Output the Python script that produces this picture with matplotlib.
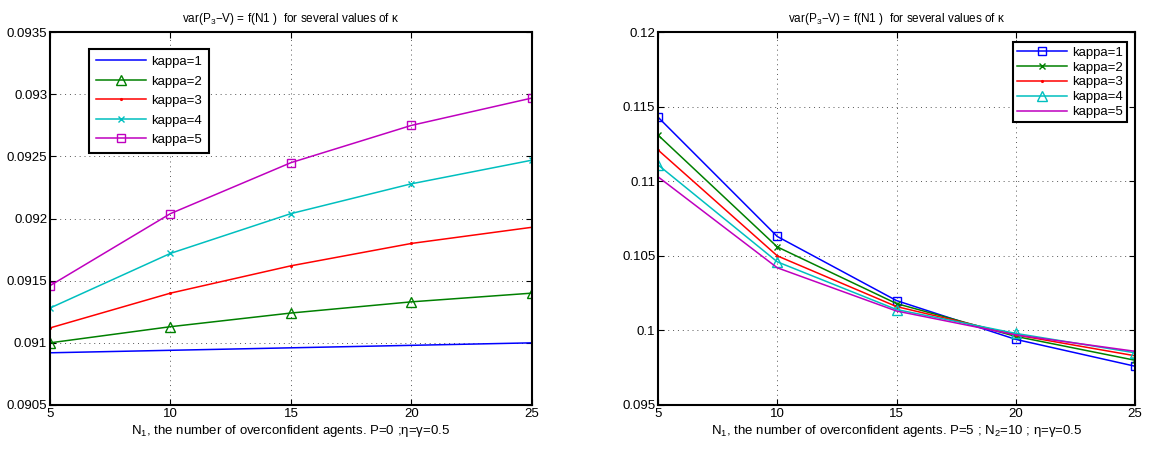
import matplotlib.pyplot as plt
import numpy as np

plt.rcParams['font.family'] = ['Liberation Sans', 'DejaVu Sans']
plt.rcParams['mathtext.fontset'] = 'custom'
plt.rcParams['mathtext.rm'] = 'Liberation Sans'
plt.rcParams['mathtext.it'] = 'Liberation Sans'

n1 = [5, 10, 15, 20, 25]
labels = ['kappa=1', 'kappa=2', 'kappa=3', 'kappa=4', 'kappa=5']
colors = ['#0000ff', '#008000', '#ff0000', '#00bfbf', '#bf00bf']

# left panel: P=0
left_vals = [
    [0.09092, 0.09094, 0.09096, 0.09098, 0.09100],
    [0.09100, 0.09113, 0.09124, 0.09133, 0.09140],
    [0.09112, 0.09140, 0.09162, 0.09180, 0.09193],
    [0.09128, 0.09172, 0.09204, 0.09228, 0.09247],
    [0.09146, 0.09204, 0.09245, 0.09275, 0.09297],
]
left_markers = ['', '^', '.', 'x', 's']

# right panel: P=5, N2=10
right_vals = [
    [0.1143, 0.1063, 0.1020, 0.0994, 0.0976],
    [0.1131, 0.1056, 0.1018, 0.0996, 0.0980],
    [0.1121, 0.1050, 0.1016, 0.0997, 0.0983],
    [0.1111, 0.1046, 0.1014, 0.0998, 0.0985],
    [0.1103, 0.1042, 0.1013, 0.0997, 0.0986],
]
right_markers = ['s', 'x', '.', '^', '']

msize = {'s': 6, '^': 6.5, 'x': 4, '.': 2.5}

title = r'var(P$_3$$-$V) = f(N1 )  for several values of κ'

fig = plt.figure(figsize=(11.49, 4.53), dpi=100)
ax1 = fig.add_axes([0.0435, 0.106, 0.4195, 0.823])
ax2 = fig.add_axes([0.5727, 0.106, 0.4151, 0.823])


def style(ax, yticks, ylabels, xlabel):
    ax.set_xlim(5, 25)
    ax.set_xticks(n1)
    ax.set_ylim(yticks[0], yticks[-1])
    ax.set_yticks(yticks)
    ax.set_yticklabels(ylabels)
    ax.grid(True, color='#555555', linestyle=(0, (1, 4)), linewidth=0.7)
    ax.tick_params(direction='in', labelsize=9.5, top=True, right=True, length=4, pad=2)
    for s in ax.spines.values():
        s.set_linewidth(1.5)
    ax.set_title(title, fontsize=8.5, pad=7)
    ax.set_xlabel(xlabel, fontsize=9.5, labelpad=2)


def draw(ax, series, markers):
    for vals, m, c, lab in zip(series, markers, colors, labels):
        ax.plot(n1, vals, color=c, marker=m if m else None, markersize=msize.get(m, 0),
                markerfacecolor='none', markeredgecolor=c, linewidth=1.1, label=lab)


draw(ax1, left_vals, left_markers)
style(ax1, [0.0905, 0.091, 0.0915, 0.092, 0.0925, 0.093, 0.0935],
      ['0.0905', '0.091', '0.0915', '0.092', '0.0925', '0.093', '0.0935'],
      r'N$_1$, the number of overconfident agents. P=0 ;η=γ=0.5')
leg1 = ax1.legend(loc='upper left', bbox_to_anchor=(0.068, 0.972), fontsize=9.5,
                  fancybox=False, edgecolor='black', framealpha=1, handlelength=3.8,
                  borderpad=0.5, labelspacing=0.55, handletextpad=0.4)
leg1.get_frame().set_linewidth(1.5)

draw(ax2, right_vals, right_markers)
style(ax2, [0.095, 0.1, 0.105, 0.11, 0.115, 0.12],
      ['0.095', '0.1', '0.105', '0.11', '0.115', '0.12'],
      r'N$_1$, the number of overconfident agents. P=5 ; N$_2$=10 ; η=γ=0.5')
leg2 = ax2.legend(loc='upper right', bbox_to_anchor=(0.997, 0.99), fontsize=9.5,
                  fancybox=False, edgecolor='black', framealpha=1, handlelength=3.8,
                  borderpad=0.3, labelspacing=0.2, handletextpad=0.4)
leg2.get_frame().set_linewidth(1.5)

fig.savefig('out.png', dpi=100)
